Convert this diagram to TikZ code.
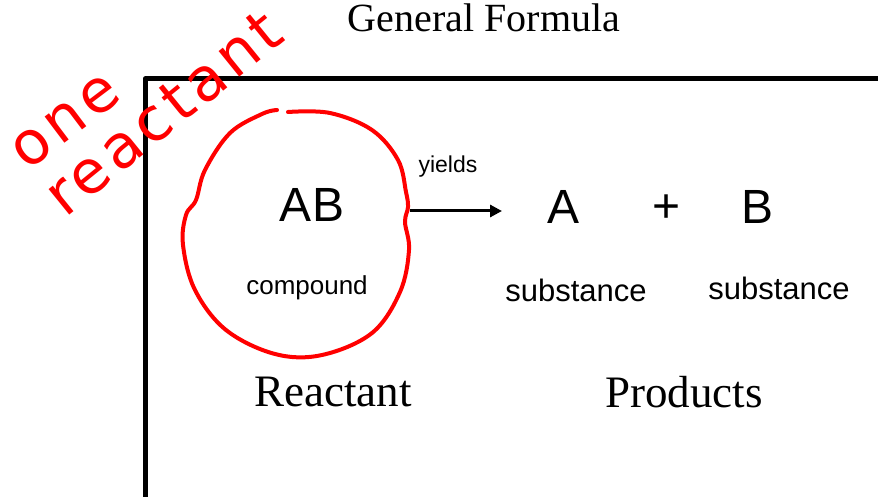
\documentclass[tikz,border=0pt]{standalone}
\usepackage{fontspec}
\setmainfont{Liberation Serif}
\setsansfont{Liberation Sans}
\newfontfamily\handfont[LetterSpace=8]{DejaVu Sans}
\usetikzlibrary{arrows.meta}

\tikzset{
  sanslabel/.style={font=\sffamily, inner sep=0pt},
  seriflabel/.style={font=\rmfamily, inner sep=0pt},
  handnote/.style={font=\handfont\fontsize{60}{60}\selectfont, text=red, inner sep=0pt},
}

\begin{document}
\begin{tikzpicture}[x=1pt,y=-1pt]

\useasboundingbox (0,0) rectangle (878,497);

% Frame
\draw[line width=5pt, line join=round] (145,497) -- (145,79) -- (878,79);

% Title
\node[seriflabel, font=\rmfamily\fontsize{40}{40}\selectfont] (title) at (484,18) {General Formula};

% Reactant side
\node[sanslabel, font=\sffamily\fontsize{48}{48}\selectfont] (AB) at (312,205) {AB};
\node[sanslabel, font=\sffamily\fontsize{26}{26}\selectfont] (cmp) at (307,288) {compound};

% Products side
\node[sanslabel, font=\sffamily\fontsize{48}{48}\selectfont] (A) at (564,207) {A};
\node[sanslabel, font=\sffamily\fontsize{48}{48}\selectfont] (plus) at (667,209) {+};
\node[sanslabel, font=\sffamily\fontsize{48}{48}\selectfont] (B) at (757,207) {B};
\node[sanslabel, font=\sffamily\fontsize{31}{31}\selectfont] (subA) at (576,290) {substance};
\node[sanslabel, font=\sffamily\fontsize{31}{31}\selectfont] (subB) at (779,288) {substance};

% Arrow
\coordinate (yfrom) at (410,211);
\coordinate (yto) at (502,211);
\draw[line width=3pt, -{Triangle[length=12pt,width=12pt]}] (yfrom) -- (yto);
\node[sanslabel, font=\sffamily\fontsize{23}{23}\selectfont] (yields) at (448,167) {yields};

% Bottom labels
\node[seriflabel, font=\rmfamily\fontsize{45}{45}\selectfont] (reac) at (333,392) {Reactant};
\node[seriflabel, font=\rmfamily\fontsize{45}{45}\selectfont] (prod) at (684,392) {Products};

% Red circle
\draw[red, line width=4pt, line cap=round, line join=round]
  plot[smooth, tension=0.6] coordinates {
    (288,112) (330,113) (372,130) (398,160) (406,192) (408,207)
    (405,222) (409,250) (400,292) (372,333) (322,355) (275,354)
    (226,330) (195,290) (183,245) (186,215) (196,200) (205,170)
    (230,133) (262,114) (277,110)};

% Handwritten note
\node[handnote, rotate=37] (one) at (66,122) {one};
\node[handnote, rotate=39] (reactnote) at (163,113) {reactant};

\end{tikzpicture}
\end{document}
